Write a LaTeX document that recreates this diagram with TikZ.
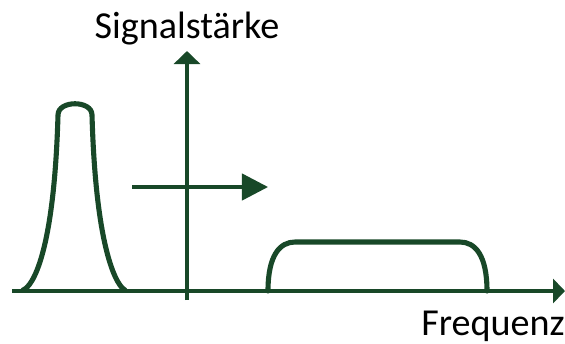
\documentclass[tikz,border=0pt]{standalone}
\usepackage{fontspec}
\setmainfont{Carlito}
\usepackage{xcolor}
\usetikzlibrary{arrows.meta,positioning}
\definecolor{sigGreen}{RGB}{24,72,40}

\begin{document}
\begin{tikzpicture}[x=0.02cm,y=-0.02cm,
    axis/.style={draw=sigGreen, line width=1.8pt},
    curve/.style={draw=sigGreen, line width=2.9pt, line cap=round, line join=round},
    lbl/.style={font=\fontsize{21.7}{26}\selectfont, text=black, inner sep=0pt}]
    \useasboundingbox (0,0) rectangle (565,343);

    % axes
    \coordinate (f0) at (12,291);
    \coordinate (f1) at (565,291);
    \coordinate (s0) at (187,300);
    \coordinate (s1) at (187,51);
    \draw[axis, -{Triangle[length=6.8pt,width=13.7pt]}] (f0) -- (f1);
    \draw[axis, -{Triangle[length=7.4pt,width=14.8pt]}] (s0) -- (s1);

    % shift arrow
    \coordinate (m0) at (132,187);
    \coordinate (m1) at (268,187);
    \draw[axis, -{Triangle[length=14.8pt,width=15pt]}] (m0) -- (m1);

    % narrow peak
    \draw[curve] (23,290) .. controls (32,287) and (54,255) .. (58,115)
        .. controls (58,100) and (92,100) .. (92,115)
        .. controls (96,255) and (118,287) .. (125,290);

    % wide band
    \draw[curve] (268,291) .. controls (268,255) and (280,242) .. (295,242)
        -- (460,242) .. controls (475,242) and (487,255) .. (487,291);

    % labels
    \node[lbl, anchor=base] (ylbl) at (187,38) {Signalstärke};
    \node[lbl, anchor=base east] (xlbl) at (565,335) {Frequenz};
\end{tikzpicture}
\end{document}
